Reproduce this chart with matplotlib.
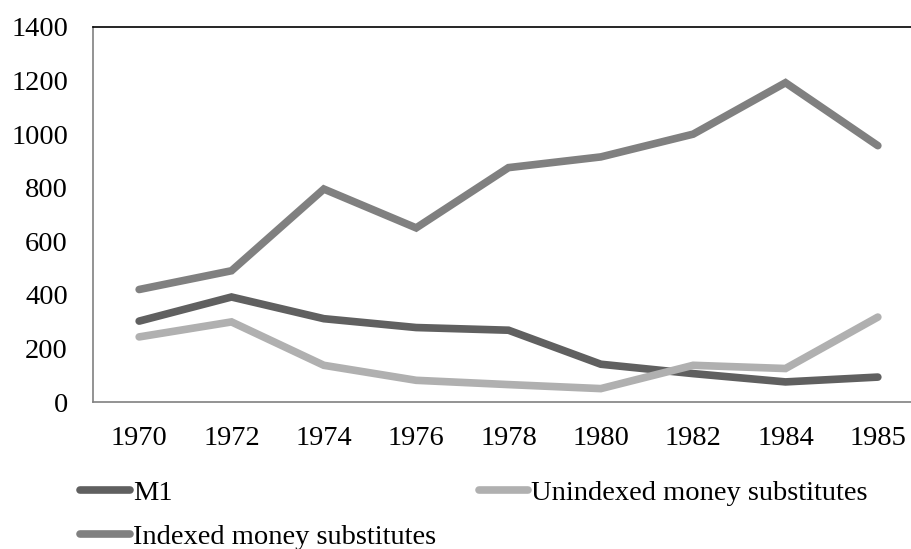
import matplotlib
matplotlib.use('Agg')
import matplotlib.pyplot as plt
from matplotlib.lines import Line2D

years = ['1970', '1972', '1974', '1976', '1978', '1980', '1982', '1984', '1985']
m1 = [302, 392, 311, 278, 268, 141, 106, 75, 93]
unindexed = [243, 299, 137, 81, 65, 50, 137, 125, 317]
indexed = [420, 490, 795, 650, 875, 915, 1000, 1192, 957]

plt.rcParams['font.family'] = ['Liberation Serif', 'DejaVu Serif']

def main():
    fig = plt.figure(figsize=(9.12, 5.49), dpi=100)
    ax = fig.add_axes([93/912, 1-402/549, (924-93)/912, (402-27)/549])
    x = list(range(len(years)))

    lw = 5.5
    fs = 20.5
    ax.plot(x, m1, color='#606060', lw=lw, solid_capstyle='round', solid_joinstyle='miter', label='M1')
    ax.plot(x, unindexed, color='#b0b0b0', lw=lw, solid_capstyle='round', solid_joinstyle='miter', label='Unindexed money substitutes')
    ax.plot(x, indexed, color='#808080', lw=lw, solid_capstyle='round', solid_joinstyle='miter', label='Indexed money substitutes')

    ax.set_xlim(-0.5, 8.5)
    ax.set_ylim(0, 1400)
    ax.set_yticks(range(0, 1401, 200))
    ax.set_xticks(x)
    ax.set_xticklabels(years)
    ax.tick_params(length=0, labelsize=fs)
    ax.tick_params(axis='x', pad=17)
    ax.tick_params(axis='y', pad=18)
    for s in ['left', 'bottom']:
        ax.spines[s].set_color('#808080')
    for s in ['top', 'right']:
        ax.spines[s].set_color('black')
    for s in ax.spines.values():
        s.set_linewidth(1.2)

    # legend: M1 and Indexed in first column, Unindexed in second
    h = [Line2D([], [], color=c, lw=lw, solid_capstyle='round') for c in ['#606060', '#808080', '#b0b0b0']]
    fig.legend(h, ['M1', 'Indexed money substitutes', 'Unindexed money substitutes'],
               ncol=2, loc='upper left', bbox_to_anchor=(80/912, 1-480/549),
               frameon=False, fontsize=fs, handlelength=1.75, handletextpad=0.1,
               columnspacing=1.5, labelspacing=0.62, borderpad=0, borderaxespad=0)

    fig.savefig('out.png', dpi=100)

if __name__ == "__main__":
    main()
